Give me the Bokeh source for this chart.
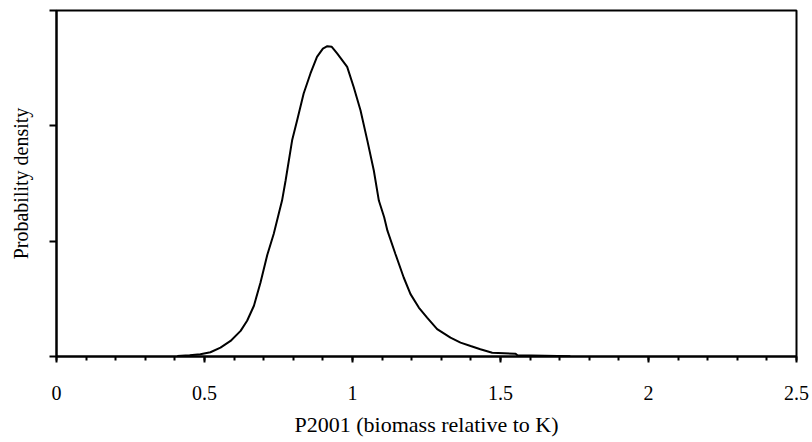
from bokeh.plotting import figure
from bokeh.models import Range1d, FixedTicker
from bokeh.embed import file_html
from bokeh.resources import INLINE

# P2001 values (biomass relative to K) and probability density
p2001 = [0.408, 0.45, 0.486, 0.520, 0.554, 0.588, 0.622, 0.644, 0.667, 0.689, 0.712,
         0.734, 0.751, 0.762, 0.774, 0.796, 0.813, 0.835, 0.858, 0.880, 0.900, 0.915,
         0.930, 0.948, 0.982, 1.004, 1.027, 1.050, 1.072, 1.089, 1.107, 1.118, 1.145,
         1.173, 1.196, 1.224, 1.252, 1.286, 1.331, 1.365, 1.399, 1.432, 1.472, 1.551,
         1.557, 1.65, 1.736]
density = [0.005, 0.01, 0.02, 0.037, 0.077, 0.135, 0.222, 0.310, 0.440, 0.640, 0.880,
           1.065, 1.239, 1.352, 1.526, 1.874, 2.048, 2.280, 2.454, 2.598, 2.670, 2.691,
           2.685, 2.628, 2.511, 2.337, 2.135, 1.874, 1.613, 1.352, 1.207, 1.091, 0.889,
           0.685, 0.541, 0.424, 0.337, 0.237, 0.163, 0.120, 0.091, 0.063, 0.033, 0.024,
           0.01, 0.006, 0.002]

x_ticks = [0, 0.5, 1, 1.5, 2, 2.5]
x_tick_labels = ["0", "0.5", "1", "1.5", "2", "2.5"]
y_ticks = [0, 1, 2, 3]

FONT = "'Liberation Serif', serif"

p = figure(width=812, height=442, output_backend="svg", toolbar_location=None,
           x_range=Range1d(0, 2.5), y_range=Range1d(0, 3),
           min_border_left=56, min_border_right=16, min_border_top=10, min_border_bottom=86)

p.line(p2001, density, line_color="black", line_width=2)

p.grid.visible = False
p.outline_line_color = "black"
p.outline_line_width = 2
p.background_fill_color = "white"
p.border_fill_color = "white"

xa = p.xaxis[0]
xa.ticker = FixedTicker(ticks=x_ticks, minor_ticks=[round(0.1 * i, 2) for i in range(26)])
xa.major_label_overrides = {t: l for t, l in zip(x_ticks, x_tick_labels)}
xa.axis_label = "P2001 (biomass relative to K)"
xa.axis_line_width = 2
xa.axis_line_color = "black"
xa.major_tick_line_width = 2
xa.minor_tick_line_width = 2
xa.major_tick_in = 0
xa.major_tick_out = 6
xa.minor_tick_in = 0
xa.minor_tick_out = 4
xa.major_label_standoff = 23
xa.axis_label_standoff = 9
xa.major_label_text_font = FONT
xa.major_label_text_font_size = "20px"
xa.major_label_text_color = "black"
xa.axis_label_text_font = FONT
xa.axis_label_text_font_size = "22px"
xa.axis_label_text_font_style = "normal"
xa.axis_label_text_color = "black"

ya = p.yaxis[0]
ya.ticker = FixedTicker(ticks=y_ticks, minor_ticks=[])
ya.major_label_overrides = {t: "" for t in y_ticks}
ya.major_label_text_font_size = "0px"
ya.major_label_standoff = 0
ya.axis_label = "Probability density"
ya.axis_line_width = 2
ya.axis_line_color = "black"
ya.major_tick_line_width = 2
ya.major_tick_in = 0
ya.major_tick_out = 7
ya.minor_tick_line_color = None
ya.axis_label_standoff = 18
ya.axis_label_text_font = FONT
ya.axis_label_text_font_size = "20px"
ya.axis_label_text_font_style = "normal"
ya.axis_label_text_color = "black"

open("out.html", "w").write(file_html(p, INLINE))
